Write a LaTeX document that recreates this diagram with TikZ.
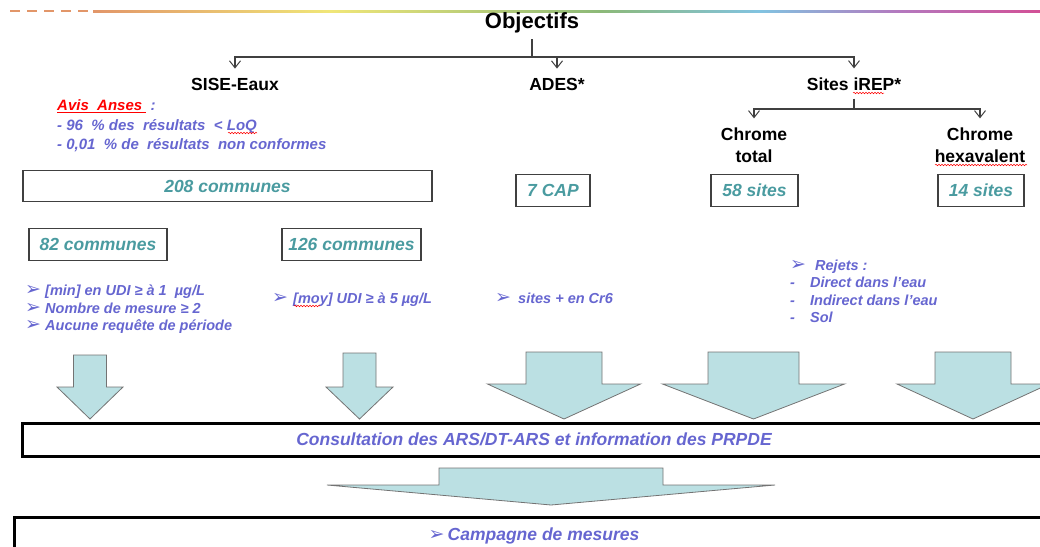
\documentclass[tikz,border=0pt]{standalone}
\usepackage{fontspec}
\setmainfont{Liberation Sans}
\newfontfamily\symf{DejaVu Sans}
\usetikzlibrary{arrows.meta, positioning, decorations.pathmorphing}
\definecolor{violettxt}{RGB}{102,102,208}
\definecolor{tealtxt}{RGB}{74,155,160}
\definecolor{flechefill}{RGB}{187,224,227}
\definecolor{flechedraw}{RGB}{115,115,115}
\definecolor{rorange}{RGB}{226,150,105}
\definecolor{ryellow}{RGB}{240,230,120}
\definecolor{rgreen}{RGB}{140,185,120}
\definecolor{rblue}{RGB}{130,195,225}
\definecolor{rpurple}{RGB}{180,120,190}
\definecolor{rpink}{RGB}{210,80,150}
\newcommand{\bul}{{\symf\fontsize{19}{15}\selectfont ➢}}
\tikzset{
  titre/.style ={font=\bfseries\fontsize{22}{26}\selectfont, inner sep=1pt},
  src/.style   ={font=\bfseries\fontsize{17.5}{22}\selectfont, align=center, inner sep=1pt},
  cnt/.style   ={rectangle, draw=black!75, line width=1.3pt, text=tealtxt,
                 font=\bfseries\itshape\fontsize{17.5}{20}\selectfont,
                 minimum height=32pt, inner sep=0pt},
  crit/.style  ={text=violettxt, font=\bfseries\itshape\fontsize{14.5}{17.5}\selectfont,
                 align=left, anchor=west, inner sep=0pt},
  bande/.style ={rectangle, draw=black, line width=3pt, text=violettxt,
                 font=\bfseries\itshape\fontsize{17.5}{20}\selectfont, inner sep=0pt},
  fleche/.style={fill=flechefill, draw=flechedraw, line width=0.8pt, line join=miter},
  tree/.style  ={draw=black!75, line width=1.3pt},
  treear/.style={tree, -{Straight Barb[length=7pt, width=11pt, line width=1pt]}, shorten >=8pt},
  spell/.style ={draw=red, line width=0.5pt, decorate,
                 decoration={snake, amplitude=0.8pt, segment length=3pt}},
}

\begin{document}
\begin{tikzpicture}[x=1pt, y=-1pt]
\useasboundingbox (0,0) rectangle (1040,546);
% top band
\draw[rorange, line width=2.5pt, dash pattern=on 10pt off 7pt] (10,11) -- (92,11);
\foreach \xa/\xb/\ca/\cb in {93/330/rorange/ryellow, 330/600/ryellow/rgreen,
    600/760/rgreen/rblue, 760/900/rblue/rpurple, 900/1040/rpurple/rpink}
  \shade[left color=\ca, right color=\cb] (\xa,10) rectangle (\xb,12.5);

\node[titre] (obj) at (532,23) {Objectifs};
\coordinate (hub) at (532,57);
\node[src] (sise) at (235,84) {SISE-Eaux};
\node[src] (ades) at (557,84) {ADES*};
\node[src] (irep) at (854,84) {Sites iREP*};
\draw[tree, shorten <=5pt] (obj) -- (hub);
\draw[treear] (hub) -| (sise);
\draw[treear] (hub) -| (ades);
\draw[treear] (hub) -| (irep);

\coordinate (hub2) at (854,109);
\node[src] (ctot) at (754,145) {Chrome\\total};
\node[src] (chex) at (980,145) {Chrome\\hexavalent};
\draw[tree, shorten <=7pt] (irep) -- (hub2);
\draw[treear] (hub2) -| (ctot);
\draw[treear] (hub2) -| (chex);

\node[crit, font=\bfseries\itshape\fontsize{15}{19.5}\selectfont] (avis) at (57,126)
  {\textcolor{red}{\underline{Avis\ \ Anses\ }}\ :\\- 96\ \ \% des\ \ résultats\ \ <\ LoQ\\- 0,01\ \ \% de\ \ résultats\ \ non conformes};

\node[cnt, minimum width=409pt, minimum height=31pt] (c208) at (227.5,186) {208 communes};
\node[cnt, minimum width=74pt] (cap) at (553,190.5) {7 CAP};
\node[cnt, minimum width=87pt] (s58) at (754.5,190.5) {58 sites};
\node[cnt, minimum width=86pt] (s14) at (981,190.5) {14 sites};
\node[cnt, minimum width=138pt] (c82) at (98,244.5) {82 communes};
\node[cnt, minimum width=139pt] (c126) at (351.5,244.5) {126 communes};

\node[crit] (k82) at (25,309.5)
  {\makebox[20pt][l]{\bul}[min] en UDI ≥ à 1\ \ µg/L\\
   \makebox[20pt][l]{\bul}Nombre de mesure ≥ 2\\
   \makebox[20pt][l]{\bul}Aucune requête de période};
\node[crit] (k126) at (272,300) {\makebox[21pt][l]{\bul}[moy] UDI ≥ à 5 µg/L};
\node[crit] (kcap) at (495,298) {\makebox[23pt][l]{\bul}sites + en Cr6};
\node[crit] (krej) at (790,291.5)
  {\makebox[25pt][l]{\bul}Rejets :\\
   \makebox[20pt][l]{-}Direct dans l’eau\\
   \makebox[20pt][l]{-}Indirect dans l’eau\\
   \makebox[20pt][l]{-}Sol};

% spelling marks
\draw[spell] (228,133) -- (257,133);
\draw[spell] (853,93) -- (884,93);
\draw[spell] (935,165) -- (1027,165);
\draw[spell] (294,306) -- (320,306);

\node[bande, minimum width=1024pt, minimum height=33pt] (consult) at (534,439.5)
  {Consultation des ARS/DT-ARS et information des PRPDE};
\node[bande, minimum width=1040pt, minimum height=38pt] (camp) at (534,536)
  {\makebox[19pt][l]{\bul}Campagne de mesures};

\foreach \xc/\sw/\hw/\yt/\yb in {90/16.5/33/355/387, 359.5/16.5/33.5/353/387,
    564/38/76.5/352/384, 753.5/45.5/91/352/384, 973/38/76/352/384}
  \draw[fleche] (\xc-\sw,\yt) -- (\xc+\sw,\yt) -- (\xc+\sw,\yb) -- (\xc+\hw,\yb)
    -- (\xc,419) -- (\xc-\hw,\yb) -- (\xc-\sw,\yb) -- cycle;
\draw[fleche] (439,468) -- (663,468) -- (663,485) -- (775,485) -- (551,505)
  -- (327,485) -- (439,485) -- cycle;
\end{tikzpicture}
\end{document}
